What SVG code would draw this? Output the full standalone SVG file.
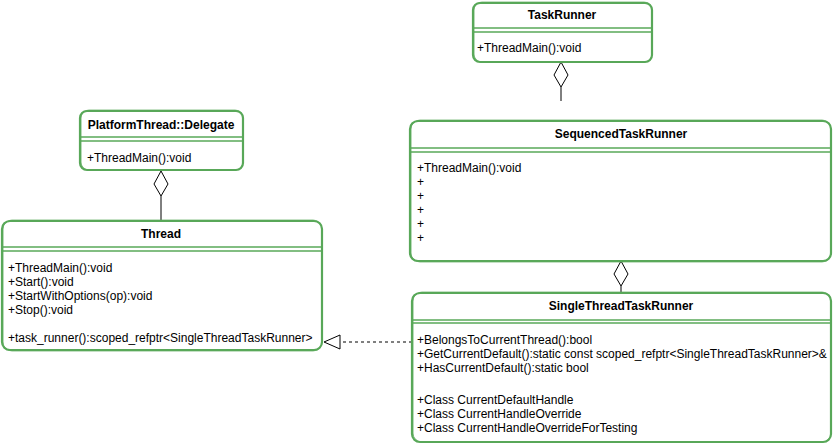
<svg xmlns="http://www.w3.org/2000/svg" width="833" height="446" viewBox="0 0 833 446">
<style>
.box{fill:#fff;stroke:#59a859;stroke-width:2.2}
.box2{fill:none;stroke:#59a859;stroke-width:1;opacity:0.7}
.sep{stroke:#59a859;stroke-width:1.5}
.t{font-family:"Liberation Sans",Arial,sans-serif;font-size:12px;fill:#000}
.b{font-weight:bold;text-anchor:middle}
.ln{stroke:#000;stroke-width:1;fill:none}
.dia{fill:#fff;stroke:#000;stroke-width:1}
</style>
<rect width="833" height="446" fill="#fff"/>
<g id="connectors">
  <path class="ln" d="M561 87 V101"/>
  <polygon class="dia" points="561,62 568,75 561,87 554,75"/>
  <path class="ln" d="M161 196 V222"/>
  <polygon class="dia" points="161,171 168,184 161,196 154,184"/>
  <path class="ln" d="M621 286 V293"/>
  <polygon class="dia" points="621,261 628,274 621,286 614,274"/>
  <path class="ln" d="M412 342 H340" stroke-dasharray="3,3"/>
  <polygon class="dia" points="324,342 340,335 340,349"/>
</g>
<g id="TaskRunner">
  <rect class="box" x="473" y="3" width="179" height="59" rx="7"/>
  <rect class="box2" x="474" y="2" width="178" height="60" rx="8"/>
  <line class="sep" x1="473" y1="28" x2="652" y2="28"/>
  <line class="sep" x1="473" y1="32" x2="652" y2="32"/>
  <text class="t b" x="562" y="19">TaskRunner</text>
  <text class="t" x="477" y="52">+ThreadMain():void</text>
</g>
<g id="PlatformThreadDelegate">
  <rect class="box" x="80" y="111" width="163" height="59" rx="7"/>
  <rect class="box2" x="81" y="110" width="162" height="60" rx="8"/>
  <line class="sep" x1="80" y1="137" x2="243" y2="137"/>
  <line class="sep" x1="80" y1="141" x2="243" y2="141"/>
  <text class="t b" x="161" y="129">PlatformThread::Delegate</text>
  <text class="t" x="87" y="162">+ThreadMain():void</text>
</g>
<g id="Thread">
  <rect class="box" x="2" y="221" width="320" height="129" rx="8"/>
  <rect class="box2" x="3" y="220" width="319" height="131" rx="9"/>
  <line class="sep" x1="2" y1="247" x2="322" y2="247"/>
  <line class="sep" x1="2" y1="251" x2="322" y2="251"/>
  <text class="t b" x="161" y="238">Thread</text>
  <text class="t" x="8" y="272">+ThreadMain():void</text>
  <text class="t" x="8" y="286">+Start():void</text>
  <text class="t" x="8" y="300">+StartWithOptions(op):void</text>
  <text class="t" x="8" y="314">+Stop():void</text>
  <text class="t" x="8" y="342">+task_runner():scoped_refptr&lt;SingleThreadTaskRunner&gt;</text>
</g>
<g id="SequencedTaskRunner">
  <rect class="box" x="410" y="121" width="421" height="140" rx="8"/>
  <rect class="box2" x="411" y="120" width="420" height="142" rx="9"/>
  <line class="sep" x1="410" y1="148" x2="831" y2="148"/>
  <line class="sep" x1="410" y1="152" x2="831" y2="152"/>
  <text class="t b" x="621" y="138">SequencedTaskRunner</text>
  <text class="t" x="417" y="172">+ThreadMain():void</text>
  <text class="t" x="417" y="186">+</text>
  <text class="t" x="417" y="200">+</text>
  <text class="t" x="417" y="214">+</text>
  <text class="t" x="417" y="228">+</text>
  <text class="t" x="417" y="242">+</text>
</g>
<g id="SingleThreadTaskRunner">
  <rect class="box" x="412" y="293" width="419" height="149" rx="8"/>
  <rect class="box2" x="413" y="292" width="418" height="150" rx="9"/>
  <line class="sep" x1="412" y1="320" x2="831" y2="320"/>
  <line class="sep" x1="412" y1="323" x2="831" y2="323"/>
  <text class="t b" x="621" y="310">SingleThreadTaskRunner</text>
  <text class="t" x="417" y="344">+BelongsToCurrentThread():bool</text>
  <text class="t" x="417" y="358">+GetCurrentDefault():static const scoped_refptr&lt;SingleThreadTaskRunner&gt;&amp;</text>
  <text class="t" x="417" y="372">+HasCurrentDefault():static bool</text>
  <text class="t" x="417" y="404">+Class CurrentDefaultHandle</text>
  <text class="t" x="417" y="418">+Class CurrentHandleOverride</text>
  <text class="t" x="417" y="432">+Class CurrentHandleOverrideForTesting</text>
</g>
</svg>
